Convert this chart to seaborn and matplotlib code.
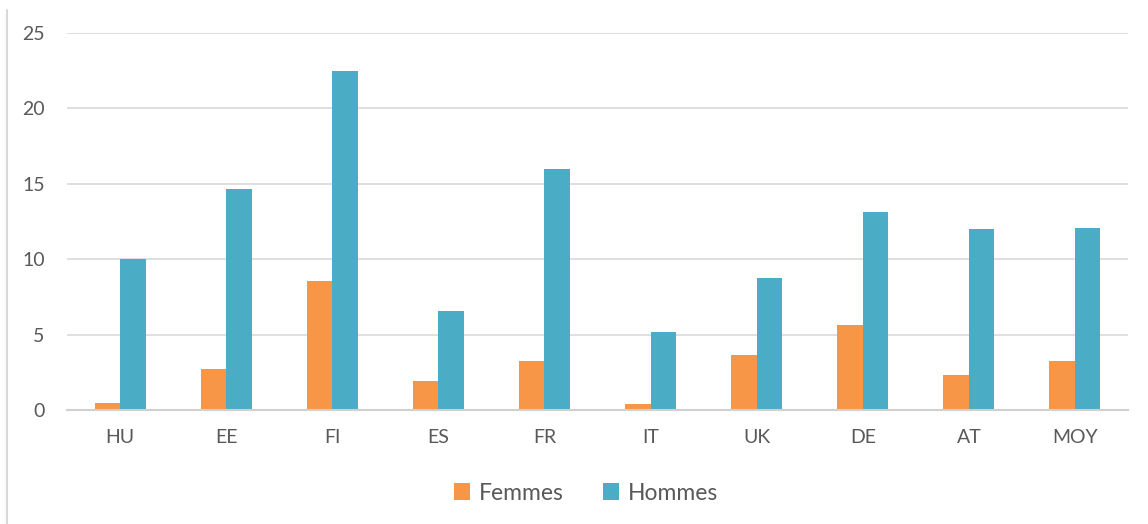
import matplotlib
matplotlib.use("Agg")
import matplotlib.pyplot as plt
import seaborn as sns
import pandas as pd
from matplotlib.lines import Line2D
from matplotlib.patches import Patch

categories = ["HU", "EE", "FI", "ES", "FR", "IT", "UK", "DE", "AT", "MOY"]
femmes = [0.48, 2.72, 8.57, 1.92, 3.25, 0.38, 3.65, 5.64, 2.34, 3.22]
hommes = [10.0, 14.68, 22.5, 6.55, 15.98, 5.15, 8.75, 13.15, 11.98, 12.09]
series = ["Femmes", "Hommes"]
colors = ["#F79646", "#4BACC6"]

df = pd.DataFrame({
    "pays": categories * 2,
    "valeur": femmes + hommes,
    "sexe": [series[0]] * len(categories) + [series[1]] * len(categories),
})

sns.set_theme(style="white")
plt.rcParams["font.family"] = ["Lato", "DejaVu Sans"]

fig = plt.figure(figsize=(11.48, 5.24), dpi=100)
ax = fig.add_axes([67 / 1148, 1 - 410 / 524, (1128 - 67) / 1148, (410 - 33) / 524])

sns.barplot(data=df, x="pays", y="valeur", hue="sexe", palette=colors,
            width=0.48, gap=0, ax=ax, legend=False, saturation=1,
            edgecolor="none", linewidth=0)

ax.set_ylim(0, 25)
ax.set_xlim(-0.5, len(categories) - 0.5)
ax.set_yticks([0, 5, 10, 15, 20, 25])
ax.yaxis.grid(True, color="#D9D9D9", linewidth=1.2)
ax.set_axisbelow(True)
for s in ["top", "right", "left"]:
    ax.spines[s].set_visible(False)
ax.spines["bottom"].set_color("#D0D0D0")
ax.spines["bottom"].set_linewidth(1.5)
ax.set_xlabel("")
ax.set_ylabel("")
ax.tick_params(axis="both", length=0, colors="#595959", labelsize=14)
ax.tick_params(axis="y", pad=16)
ax.tick_params(axis="x", pad=14)

handles = [Patch(facecolor=c, edgecolor="none") for c in colors]
fig.legend(handles, series, loc="center", bbox_to_anchor=(586 / 1148, 1 - 493 / 524),
           ncol=2, frameon=False, fontsize=16.5, labelcolor="#595959",
           handlelength=0.7, handleheight=0.7, handletextpad=0.4, columnspacing=1.7)

fig.add_artist(Line2D([7 / 1148, 7 / 1148], [0, 1 - 10 / 524], transform=fig.transFigure,
                      color="#D9D9D9", linewidth=1.5))

fig.savefig("out.png", dpi=100, facecolor="white")
